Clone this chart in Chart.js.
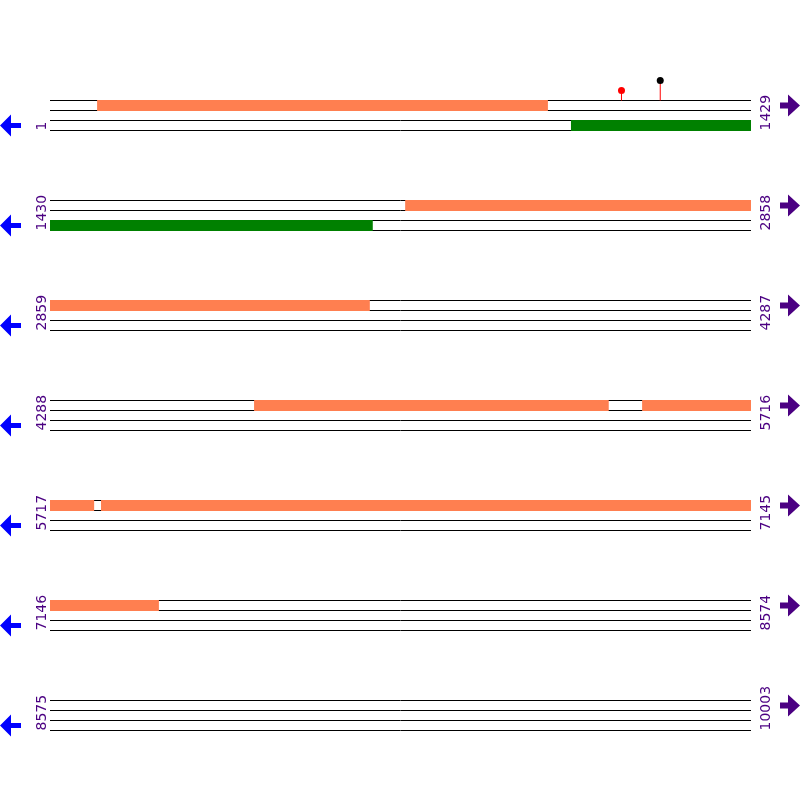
<!DOCTYPE html>
<html>
<head>
<meta charset="utf-8">
<script src="https://cdn.jsdelivr.net/npm/chart.js@4"></script>
<style>
  html, body { margin: 0; padding: 0; background: #fff; }
  canvas { display: block; }
</style>
</head>
<body>
<canvas id="map" width="800" height="800"></canvas>
<script>
// sequence map, 10003 bp laid out in rows of 1429
const rowStarts = [1, 1430, 2859, 4288, 5717, 7146, 8575];
const rowEnds = [1429, 2858, 4287, 5716, 7145, 8574, 10003];
const rowLength = 1429;

const forwardFeatures = [[97, 1015], [2154, 3510], [4704, 5426], [5495, 5806], [5821, 7367]];
const reverseFeatures = [[1063, 2087]];

const siteSpots = [1166, 1245];
const siteLevels = [1, 2];
const siteHeadColors = ["#ff0000", "#000000"];

const trackOffsets = [0, 0.1, 0.2, 0.3];

const rowOf = (p) => rowStarts.findIndex((s, i) => p >= s && p <= rowEnds[i]);

// cut a feature into pieces, one per row
const splitFeature = ([s, e]) => {
  const pieces = [];
  rowStarts.forEach((start, r) => {
    const a = Math.max(s, start);
    const b = Math.min(e, rowEnds[r]);
    if (a <= b) pieces.push({ r, from: a - start, to: b - start + 1 });
  });
  return pieces;
};

const datasets = [];

rowStarts.forEach((start, r) => {
  trackOffsets.forEach((off) => {
    datasets.push({
      data: [{ x: 0, y: r + 1 + off }, { x: rowLength, y: r + 1 + off }],
      borderColor: "#000",
      borderWidth: 1,
      order: 3
    });
  });
});

const addBars = (features, offset, color) => {
  features.flatMap(splitFeature).forEach(({ r, from, to }) => {
    datasets.push({
      data: [{ x: from, y: r + 1 + offset }, { x: to, y: r + 1 + offset }],
      borderColor: color,
      borderWidth: 11,
      borderCapStyle: "butt",
      order: 1
    });
  });
};
addBars(forwardFeatures, 0.05, "#ff7f50");
addBars(reverseFeatures, 0.25, "#008000");

siteSpots.forEach((p, i) => {
  const r = rowOf(p);
  const x = p - rowStarts[r];
  const top = r + 1 - 0.1 * siteLevels[i];
  datasets.push({
    data: [{ x, y: r + 1 }, { x, y: top }],
    borderColor: "#ff0000",
    borderWidth: 1,
    order: 2
  });
  datasets.push({
    data: [{ x, y: top }],
    showLine: false,
    pointRadius: 3.5,
    pointBackgroundColor: siteHeadColors[i],
    pointBorderWidth: 0,
    order: 0
  });
});

const rowDecor = {
  id: "rowDecor",
  afterDraw(chart) {
    const { ctx, scales: { x, y } } = chart;
    const left = x.getPixelForValue(0);
    const right = x.getPixelForValue(rowLength);
    ctx.save();
    ctx.font = "14px 'DejaVu Sans'";
    ctx.textAlign = "left";
    ctx.textBaseline = "alphabetic";
    rowStarts.forEach((start, r) => {
      const bottom = y.getPixelForValue(r + 1.3);
      ctx.fillStyle = "#4b0082";
      [[left - 4, start], [right + 19, rowEnds[r]]].forEach(([tx, label]) => {
        ctx.save();
        ctx.translate(tx, bottom);
        ctx.rotate(-Math.PI / 2);
        ctx.fillText(String(label), 0, 0);
        ctx.restore();
      });

      // forward arrow
      const fy = y.getPixelForValue(r + 1.05);
      ctx.beginPath();
      ctx.moveTo(right + 29, fy - 3);
      ctx.lineTo(right + 37, fy - 3);
      ctx.lineTo(right + 37, fy - 11);
      ctx.lineTo(right + 49, fy);
      ctx.lineTo(right + 37, fy + 11);
      ctx.lineTo(right + 37, fy + 3);
      ctx.lineTo(right + 29, fy + 3);
      ctx.closePath();
      ctx.fill();

      // reverse arrow
      const ry = y.getPixelForValue(r + 1.25);
      ctx.fillStyle = "#0000ff";
      ctx.beginPath();
      ctx.moveTo(left - 29, ry - 2.5);
      ctx.lineTo(left - 39, ry - 2.5);
      ctx.lineTo(left - 39, ry - 11);
      ctx.lineTo(left - 50, ry);
      ctx.lineTo(left - 39, ry + 11);
      ctx.lineTo(left - 39, ry + 2.5);
      ctx.lineTo(left - 29, ry + 2.5);
      ctx.closePath();
      ctx.fill();
    });
    ctx.restore();
  }
};

new Chart(document.getElementById("map"), {
  type: "scatter",
  data: { datasets },
  options: {
    responsive: false,
    animation: false,
    devicePixelRatio: 1,
    showLine: true,
    elements: { point: { radius: 0 } },
    layout: { autoPadding: false, padding: { left: 50, right: 49, top: 0, bottom: 0 } },
    plugins: { legend: { display: false }, tooltip: { enabled: false } },
    scales: {
      x: { type: "linear", min: 0, max: rowLength, display: false },
      y: { type: "linear", min: -0.005, max: 7.995, reverse: true, display: false }
    }
  },
  plugins: [rowDecor]
});
</script>
</body>
</html>
